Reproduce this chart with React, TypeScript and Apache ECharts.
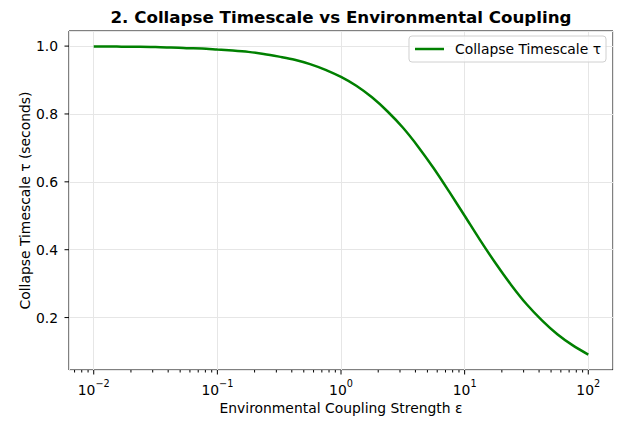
import React, { useEffect, useRef } from 'react';
import * as echarts from 'echarts';

const seriesName = 'Collapse Timescale τ';
const epsilon = [
  0.01, 0.0133, 0.0178, 0.0237, 0.0316, 0.0422, 0.0562, 0.075,
  0.1, 0.133, 0.178, 0.237, 0.316, 0.422, 0.562, 0.75,
  1, 1.33, 1.78, 2.37, 3.16, 4.22, 5.62, 7.5,
  10, 13.3, 17.8, 23.7, 31.6, 42.2, 56.2, 75,
  100,
];
const tau = [
  0.999, 0.999, 0.998, 0.998, 0.997, 0.996, 0.994, 0.993,
  0.990, 0.987, 0.983, 0.977, 0.969, 0.960, 0.947, 0.930,
  0.909, 0.883, 0.849, 0.808, 0.760, 0.703, 0.640, 0.571,
  0.500, 0.429, 0.360, 0.297, 0.240, 0.192, 0.151, 0.118,
  0.091,
];
const xMajorTicks = [0.01, 0.1, 1, 10, 100];
const xMinorTicks = [
  0.007, 0.008, 0.009,
  0.02, 0.03, 0.04, 0.05, 0.06, 0.07, 0.08, 0.09,
  0.2, 0.3, 0.4, 0.5, 0.6, 0.7, 0.8, 0.9,
  2, 3, 4, 5, 6, 7, 8, 9,
  20, 30, 40, 50, 60, 70, 80, 90,
];
const yTicks = [0.2, 0.4, 0.6, 0.8, 1.0];

const X_MIN = Math.pow(10, -2.2);
const X_MAX = Math.pow(10, 2.2);
const Y_MIN = 0.0455;
const Y_MAX = 1.0445;
const FONT = 'DejaVu Sans';

export default function App() {
  const ref = useRef<HTMLDivElement>(null);
  useEffect(() => {
    if (!ref.current) return;
    const chart = echarts.init(ref.current, undefined, { renderer: 'svg' });
    const xTickRender = (len: number) => (params: any, api: any) => {
      const p = api.coord([api.value(0), Y_MIN]);
      return {
        type: 'line',
        shape: { x1: p[0], y1: p[1], x2: p[0], y2: p[1] + len },
        style: { stroke: '#000', lineWidth: 1 },
      };
    };
    chart.setOption({
      animation: false,
      backgroundColor: '#fff',
      graphic: [
        {
          type: 'text',
          x: 341,
          y: 17,
          style: {
            text: '2. Collapse Timescale vs Environmental Coupling',
            fontFamily: FONT,
            fontSize: 16.7,
            fontWeight: 'bold',
            fill: '#000',
            align: 'center',
            verticalAlign: 'middle',
            textAlign: 'center',
            textVerticalAlign: 'middle',
          },
        },
      ],
      grid: {
        left: 69,
        right: 5,
        top: 31,
        bottom: 52,
        show: true,
        borderColor: '#000',
        borderWidth: 1,
        backgroundColor: 'transparent',
        containLabel: false,
      },
      legend: {
        data: [seriesName],
        right: 12,
        top: 36,
        icon: 'rect',
        itemWidth: 29,
        itemHeight: 2.5,
        backgroundColor: 'rgba(255,255,255,0.8)',
        borderColor: '#d0d0d0',
        borderWidth: 1,
        borderRadius: 3,
        padding: [6, 5, 6, 6],
        textStyle: { fontFamily: FONT, fontSize: 13.9, color: '#000', padding: [0, 0, 0, 6] },
      },
      xAxis: {
        type: 'log',
        logBase: 10,
        min: X_MIN,
        max: X_MAX,
        name: 'Environmental Coupling Strength ε',
        nameLocation: 'middle',
        nameGap: 31,
        nameMoveOverlap: false,
        nameTextStyle: { fontFamily: FONT, fontSize: 13.9, color: '#000' },
        axisLine: { show: false },
        axisTick: { show: false },
        splitLine: { show: true, lineStyle: { color: '#e6e6e6', width: 1 } },
        minorTick: { show: false },
        axisLabel: {
          margin: 8,
          color: '#000',
          fontFamily: FONT,
          formatter: (v: number) => {
            const e = Math.log10(v);
            const r = Math.round(e);
            if (Math.abs(e - r) > 1e-6) return '';
            const s = (r < 0 ? '−' : '') + Math.abs(r);
            return `{b|10}{s|${s}}`;
          },
          rich: {
            b: { fontFamily: FONT, fontSize: 13.9, color: '#000', lineHeight: 19, verticalAlign: 'bottom' },
            s: { fontFamily: FONT, fontSize: 9.7, color: '#000', lineHeight: 11, verticalAlign: 'top' },
          },
        },
      },
      yAxis: {
        type: 'value',
        min: Y_MIN,
        max: Y_MAX,
        name: 'Collapse Timescale τ (seconds)',
        nameLocation: 'middle',
        nameGap: 37,
        nameMoveOverlap: false,
        nameTextStyle: { fontFamily: FONT, fontSize: 13.9, color: '#000' },
        axisLine: { show: false },
        axisTick: { show: false },
        splitLine: { show: true, lineStyle: { color: '#e6e6e6', width: 1 } },
        axisLabel: {
          margin: 11,
          color: '#000',
          fontFamily: FONT,
          fontSize: 13.9,
          formatter: (v: number) => (Math.abs(v * 5 - Math.round(v * 5)) < 1e-6 ? v.toFixed(1) : ''),
        },
      },
      series: [
        {
          name: seriesName,
          type: 'line',
          data: epsilon.map((e, i) => [e, tau[i]]),
          showSymbol: false,
          symbol: 'none',
          smooth: 0.3,
          lineStyle: { color: '#008000', width: 2.5 },
          itemStyle: { color: '#008000' },
          z: 3,
        },
        {
          type: 'custom',
          clip: false,
          silent: true,
          renderItem: xTickRender(4.5),
          data: xMajorTicks.map((v) => [v, Y_MIN]),
          z: 5,
        },
        {
          type: 'custom',
          clip: false,
          silent: true,
          renderItem: xTickRender(2.5),
          data: xMinorTicks.map((v) => [v, Y_MIN]),
          z: 5,
        },
        {
          type: 'custom',
          clip: false,
          silent: true,
          renderItem: (params: any, api: any) => {
            const p = api.coord([X_MIN, api.value(1)]);
            return {
              type: 'line',
              shape: { x1: p[0] - 4.5, y1: p[1], x2: p[0], y2: p[1] },
              style: { stroke: '#000', lineWidth: 1 },
            };
          },
          data: yTicks.map((v) => [X_MIN, v]),
          z: 5,
        },
      ],
    });
    return () => chart.dispose();
  }, []);
  return (
    <div
      ref={ref}
      style={{ position: 'fixed', left: 0, top: 0, width: 618, height: 422 }}
    />
  );
}
